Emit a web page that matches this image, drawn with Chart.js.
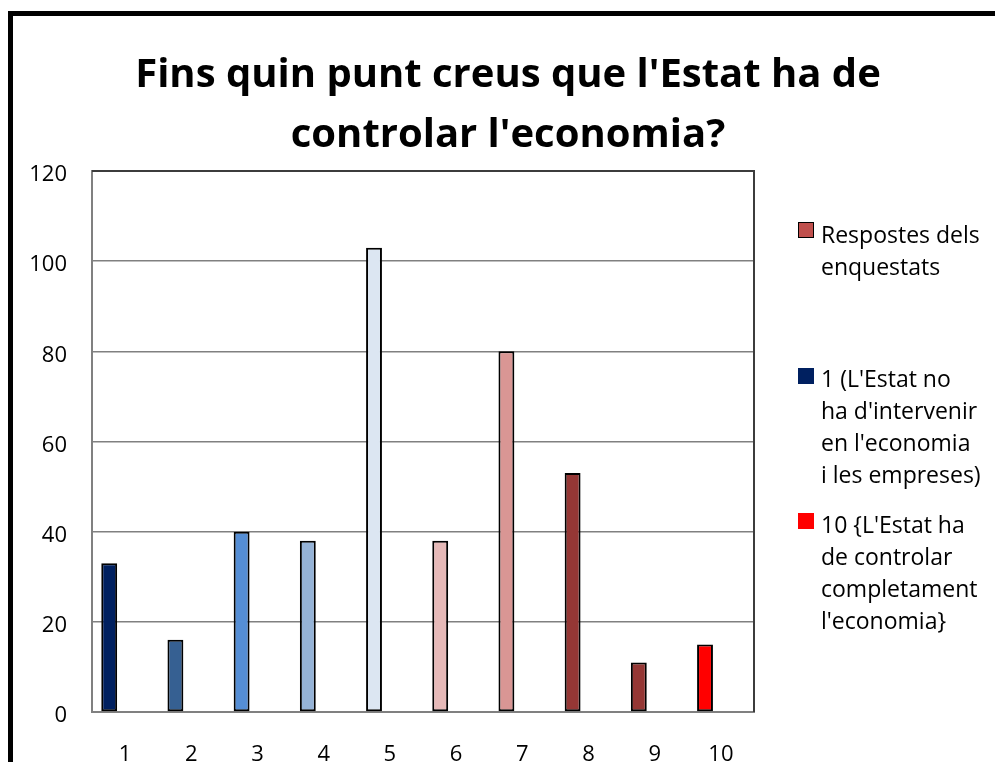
<!DOCTYPE html>
<html>
<head>
<meta charset="utf-8">
<script src="https://cdn.jsdelivr.net/npm/chart.js@4.4.0/dist/chart.umd.min.js"></script>
<style>
  html, body { margin: 0; padding: 0; background: #fff; overflow: hidden; }
  #wrap { position: relative; width: 995px; height: 762px; font-family: 'Open Sans', sans-serif; color: #000; }
  #chart { position: absolute; left: 0; top: 0; }
  #frame { position: absolute; left: 8px; top: 11px; width: 1100px; height: 900px; border: 5px solid #000; }
  #title { position: absolute; left: 14px; width: 988px; top: 42px; text-align: center; font-weight: 700; font-size: 40px; line-height: 60px; }
  .leg { position: absolute; left: 798px; font-size: 23px; line-height: 32px; }
  .leg .box { position: absolute; left: 0; width: 16px; height: 16px; box-sizing: border-box; }
  .leg .txt { position: absolute; left: 23px; white-space: nowrap; }
</style>
</head>
<body>
<div id="wrap">
  <canvas id="chart" width="995" height="762"></canvas>
  <div id="frame"></div>
  <div id="title">Fins quin punt creus que l'Estat ha de<br>controlar l'economia?</div>
  <div id="legend"></div>
</div>
<script>
const categories = ['1', '2', '3', '4', '5', '6', '7', '8', '9', '10'];
const responses = [33, 16, 40, 38, 103, 38, 80, 53, 11, 15];
const barColors = ['#002060', '#366092', '#558ED5', '#95B3D7', '#DCE6F2',
                   '#E6B9B8', '#D99694', '#953735', '#953735', '#FF0000'];
const seriesNames = [
  'Respostes dels enquestats',
  "1 (L'Estat no ha d'intervenir en l'economia i les empreses)",
  "10 {L'Estat ha de controlar completament l'economia}"
];
const seriesColors = ['#C0504D', '#002060', '#FF0000'];
// legend text lines, as wrapped in the original
const legendLines = [
  ['Respostes dels', 'enquestats'],
  ['1 (L\'Estat no', 'ha d\'intervenir', 'en l\'economia', 'i les empreses)'],
  ['10 {L\'Estat ha', 'de controlar', 'completament', 'l\'economia}']
];
const yMin = 0, yMax = 120, yStep = 20;

// legend (html)
const legendPos = [{ box: 222, txt: 218, border: true }, { box: 368, txt: 362 }, { box: 513, txt: 508 }];
const legendEl = document.getElementById('legend');
legendLines.forEach((lines, i) => {
  const item = document.createElement('div');
  item.className = 'leg';
  item.style.top = '0px';
  const box = document.createElement('div');
  box.className = 'box';
  box.style.top = legendPos[i].box + 'px';
  box.style.background = seriesColors[i];
  if (legendPos[i].border) box.style.border = '1.5px solid #000';
  const txt = document.createElement('div');
  txt.className = 'txt';
  txt.style.top = legendPos[i].txt + 'px';
  txt.innerHTML = lines.join('<br>');
  item.appendChild(box);
  item.appendChild(txt);
  legendEl.appendChild(item);
});

const plotFrame = {
  id: 'plotFrame',
  afterDatasetsDraw(chart) {
    const { ctx, chartArea: a } = chart;
    ctx.save();
    ctx.strokeStyle = '#3c3c3c';
    ctx.lineWidth = 2;
    ctx.beginPath();
    ctx.moveTo(a.left, a.top);
    ctx.lineTo(a.right, a.top);
    ctx.lineTo(a.right, a.bottom);
    ctx.stroke();
    ctx.restore();
  }
};

const ctx = document.getElementById('chart').getContext('2d');
new Chart(ctx, {
  type: 'bar',
  data: {
    labels: categories,
    datasets: [
      {
        label: seriesNames[0],
        data: responses,
        backgroundColor: barColors,
        borderColor: '#000',
        borderWidth: 2,
        borderSkipped: false
      },
      { label: seriesNames[1], data: [], backgroundColor: seriesColors[1] },
      { label: seriesNames[2], data: [], backgroundColor: seriesColors[2] }
    ]
  },
  options: {
    responsive: false,
    animation: false,
    devicePixelRatio: 1,
    layout: { padding: { top: 171, left: 12, right: 241, bottom: 0 } },
    datasets: { bar: { categoryPercentage: 0.72, barPercentage: 1 } },
    plugins: {
      legend: { display: false },
      title: { display: false },
      tooltip: { enabled: false }
    },
    scales: {
      x: {
        grid: { display: false, drawTicks: false },
        border: { color: '#808080', width: 2 },
        ticks: { color: '#000', padding: 30, font: { family: 'Open Sans', size: 22 } },
        afterFit(scale) { scale.height = 50; }
      },
      y: {
        min: yMin,
        max: yMax,
        grid: { color: '#808080', lineWidth: 1.5, drawTicks: false },
        border: { color: '#808080', width: 2 },
        ticks: { stepSize: yStep, color: '#000', padding: 25, labelOffset: 4, font: { family: 'Open Sans', size: 22 } },
        afterFit(scale) { scale.width = 80; }
      }
    }
  },
  plugins: [plotFrame]
});
</script>
</body>
</html>
